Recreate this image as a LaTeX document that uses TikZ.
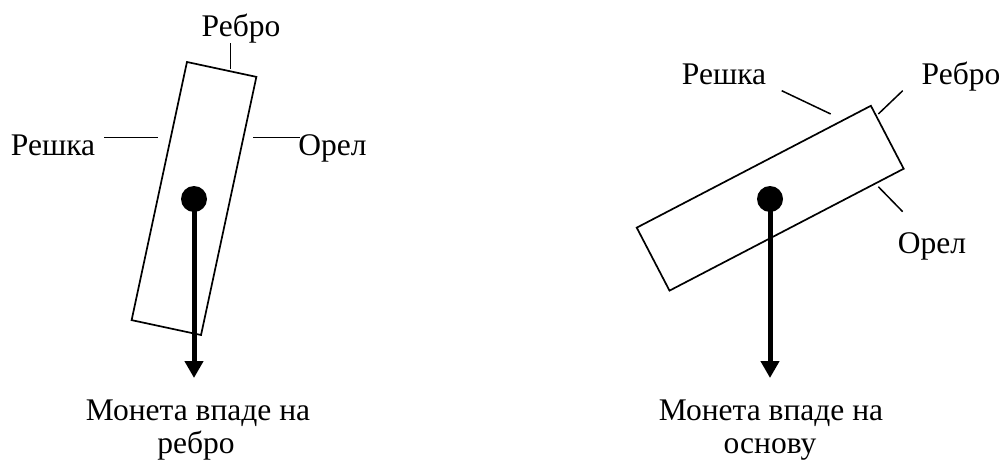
\documentclass[tikz,border=0pt]{standalone}
\usepackage{fontspec}
\setmainfont{Liberation Serif}
\newfontfamily\coinfont{Liberation Serif}
\usetikzlibrary{arrows.meta}
\begin{document}
\begin{tikzpicture}[x=1pt,y=-1pt,
  coin/.style={draw, line width=1.7pt, rectangle, minimum width=71pt,
    minimum height=264pt, inner sep=0pt},
  lbl/.style={font=\coinfont\fontsize{31.5}{36}\selectfont, inner sep=0pt, anchor=base},
  tick/.style={line width=1.5pt},
  dot/.style={circle, fill, inner sep=0pt, minimum size=26pt},
  fall/.style={line width=5pt, -{Triangle[width=18pt,length=17pt]}},
]
\useasboundingbox (0,0) rectangle (1004,463);

% ---- coin standing on its edge ----
\node[coin, rotate=-12.1] (coinL) at (194,198.5) {};
\node[dot] (dotL) at (194,199) {};
\coordinate (tipL) at (194,378);
\draw[fall] (dotL.center) -- (tipL);

\node[lbl] (edgeL) at (241,36) {Ребро};
\coordinate (edgeLa) at (230.5,43);
\coordinate (edgeLb) at (230.5,69);
\draw[tick] (edgeLa) -- (edgeLb);

\node[lbl] (tailsL) at (53,155) {Решка};
\coordinate (tailsLa) at (104,137.5);
\coordinate (tailsLb) at (158,137.5);
\draw[tick] (tailsLa) -- (tailsLb);

\node[lbl] (headsL) at (332.5,155) {Орел};
\coordinate (headsLa) at (253,137.5);
\coordinate (headsLb) at (300,137.5);
\draw[tick] (headsLa) -- (headsLb);

\node[lbl] (capL1) at (198,420) {Монета впаде на};
\node[lbl] (capL2) at (196,453) {ребро};

% ---- coin lying on a face ----
\node[coin, rotate=-62.5] (coinR) at (770.2,198.2) {};
\node[dot] (dotR) at (770,199) {};
\coordinate (tipR) at (770,378);
\draw[fall] (dotR.center) -- (tipR);

\node[lbl] (tailsR) at (724,84) {Решка};
\coordinate (tailsRa) at (781.7,90.7);
\coordinate (tailsRb) at (830.7,114);
\draw[tick] (tailsRa) -- (tailsRb);

\node[lbl] (edgeR) at (961,84) {Ребро};
\coordinate (edgeRa) at (878.3,114);
\coordinate (edgeRb) at (902.7,90.7);
\draw[tick] (edgeRa) -- (edgeRb);

\node[lbl] (headsR) at (932,253) {Орел};
\coordinate (headsRa) at (878.3,186.7);
\coordinate (headsRb) at (902.7,211.7);
\draw[tick] (headsRa) -- (headsRb);

\node[lbl] (capR1) at (771,420) {Монета впаде на};
\node[lbl] (capR2) at (770,453) {основу};
\end{tikzpicture}
\end{document}
